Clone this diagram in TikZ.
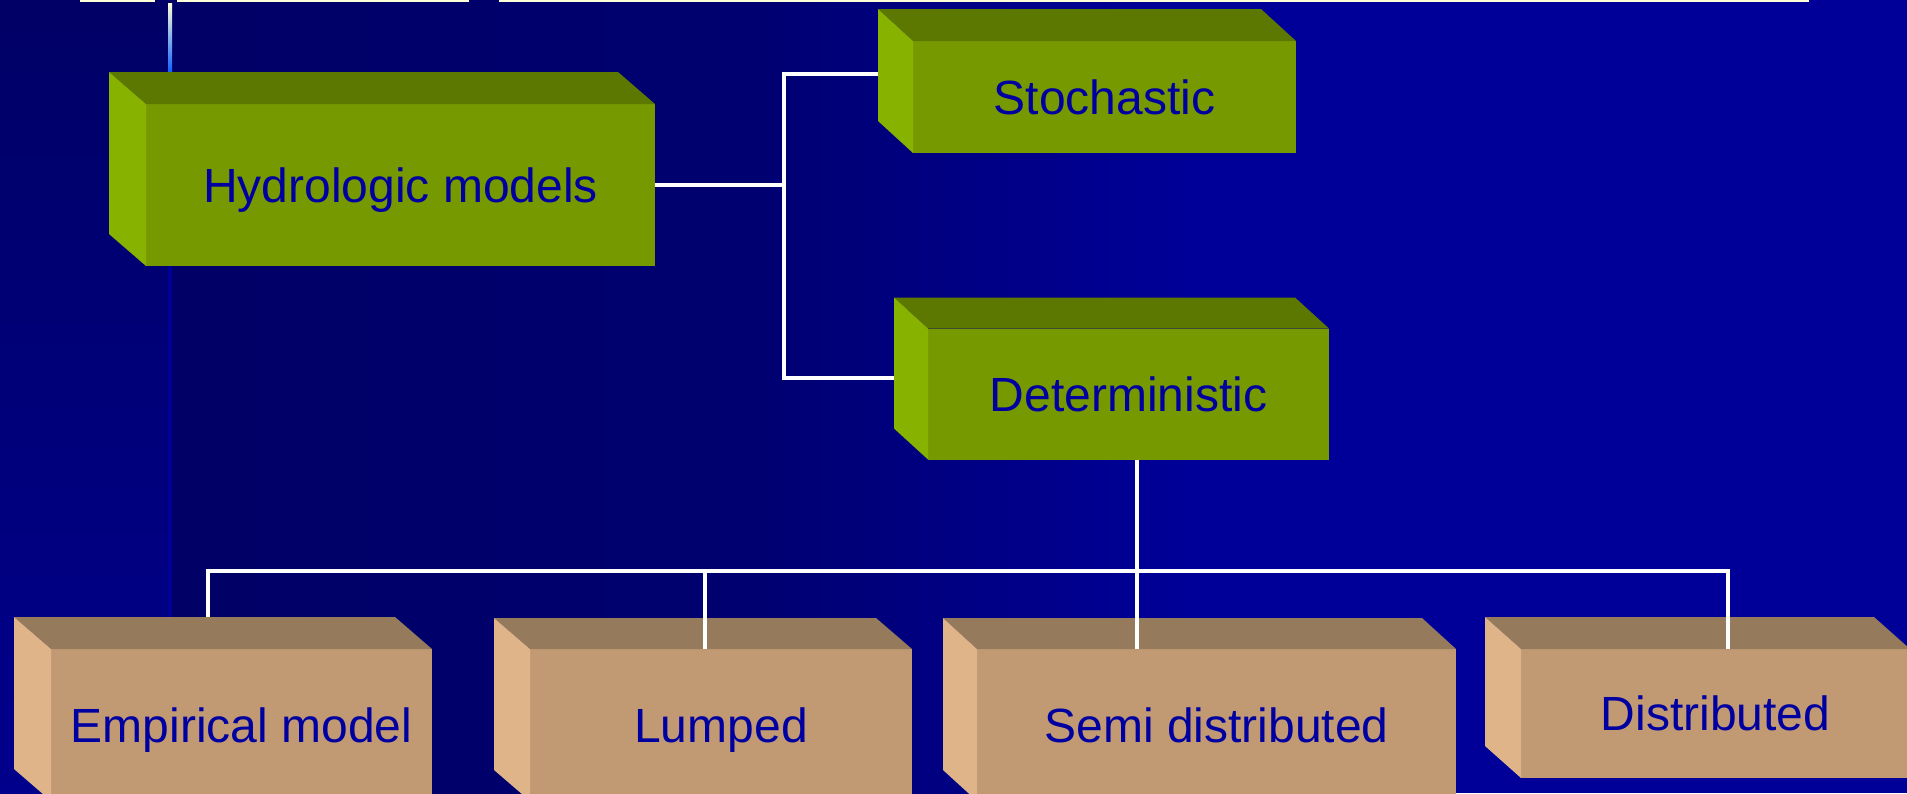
\documentclass[tikz,border=0pt]{standalone}
\usepackage{fontspec}
\setmainfont{Liberation Sans}
\definecolor{bgA}{RGB}{0,0,102}
\definecolor{bgB}{RGB}{0,0,112}
\definecolor{bgC}{RGB}{0,0,153}
\definecolor{stripeB}{RGB}{0,0,140}
\definecolor{gFront}{RGB}{119,153,0}
\definecolor{gTop}{RGB}{92,120,0}
\definecolor{gSide}{RGB}{136,178,0}
\definecolor{tFront}{RGB}{193,153,115}
\definecolor{tTop}{RGB}{150,122,92}
\definecolor{tSide}{RGB}{223,180,137}
\definecolor{txt}{RGB}{0,0,160}
\definecolor{cream}{RGB}{255,255,215}
\definecolor{lineblue}{RGB}{16,96,255}
\definecolor{stripeline}{RGB}{0,0,150}
\tikzset{
  front/.style={inner sep=0pt, outer sep=0pt, font=\fontsize{48}{58}\selectfont,
    text=txt, text height=34pt, text depth=0pt},
  greenbox/.style={front, fill=gFront},
  tanbox/.style={front, fill=tFront},
  link/.style={draw=white, line width=3.5pt},
  topline/.style={fill=cream},
}
\newcommand\boxfaces[5]{%
  \fill[#4] (#1.north west) -- (#1.north east) -- ([shift={(-#2,-#3)}]#1.north east)
     -- ([shift={(-#2,-#3)}]#1.north west) -- cycle;
  \fill[#5] (#1.north west) -- (#1.south west) -- ([shift={(-#2,-#3)}]#1.south west)
     -- ([shift={(-#2,-#3)}]#1.north west) -- cycle;
  \coordinate (#1-bl) at ([shift={(-#2,-#3)}]#1.north west);
}
\begin{document}
\begin{tikzpicture}[x=1pt,y=-1pt]
\useasboundingbox (0,0) rectangle (1907,793);
\clip (0,0) rectangle (1907,793);
% background
\shade[left color=bgA, right color=bgB] (169,0) rectangle (750,793);
\shade[left color=bgB, right color=bgC] (749,0) rectangle (1200,793);
\fill[bgC] (1199,0) rectangle (1907,793);
\shade[top color=bgA, bottom color=stripeB] (0,0) rectangle (170,793);
% template lines
\fill[topline] (80,0) rectangle (155,2);
\fill[topline] (177,0) rectangle (469,2);
\fill[topline] (499,0) rectangle (1809,2);
\shade[top color=cream, bottom color=lineblue] (168,3) rectangle (172,72);
\fill[stripeline] (168,266) rectangle (172,793);
% boxes
\node[greenbox, minimum width=509pt, minimum height=162pt] (hydro) at (400.5,185) {Hydrologic models};
\boxfaces{hydro}{37}{32}{gTop}{gSide}
\node[greenbox, minimum width=383pt, minimum height=112pt] (stoch) at (1104.5,97) {Stochastic};
\boxfaces{stoch}{35}{32}{gTop}{gSide}
\node[greenbox, minimum width=401pt, minimum height=131pt] (det) at (1128.5,394) {Deterministic};
\boxfaces{det}{34}{31}{gTop}{gSide}
\node[tanbox, minimum width=381pt, minimum height=152pt] (emp) at (241.5,725) {Empirical model};
\boxfaces{emp}{37}{32}{tTop}{tSide}
\node[tanbox, minimum width=382pt, minimum height=152pt] (lump) at (721,725) {Lumped};
\boxfaces{lump}{36}{31}{tTop}{tSide}
\node[tanbox, minimum width=479pt, minimum height=152pt] (semi) at (1216.5,725) {Semi distributed};
\boxfaces{semi}{34}{31}{tTop}{tSide}
\node[tanbox, minimum width=389pt, minimum height=129pt] (dist) at (1715.5,713.5) {Distributed};
\boxfaces{dist}{36}{32}{tTop}{tSide}
% connectors
\coordinate (jt) at (784,74);
\coordinate (jb) at (784,378);
\coordinate (jd) at (1137,571);
\coordinate (bl) at (208,571);
\coordinate (br) at (1728,571);
\coordinate (dl) at (705,571);
\draw[link] (hydro.east) -- (hydro.east -| jt);
\draw[link] (jt -| stoch-bl) -- (jt) -- (jb) -- (jb -| det-bl);
\draw[link] (jd |- det.south) -- (jd);
\draw[link] (bl |- emp-bl) -- (bl) -- (br) -- (br |- dist.north);
\draw[link] (dl) -- (dl |- lump.north);
\draw[link] (jd) -- (jd |- semi.north);
\end{tikzpicture}
\end{document}
